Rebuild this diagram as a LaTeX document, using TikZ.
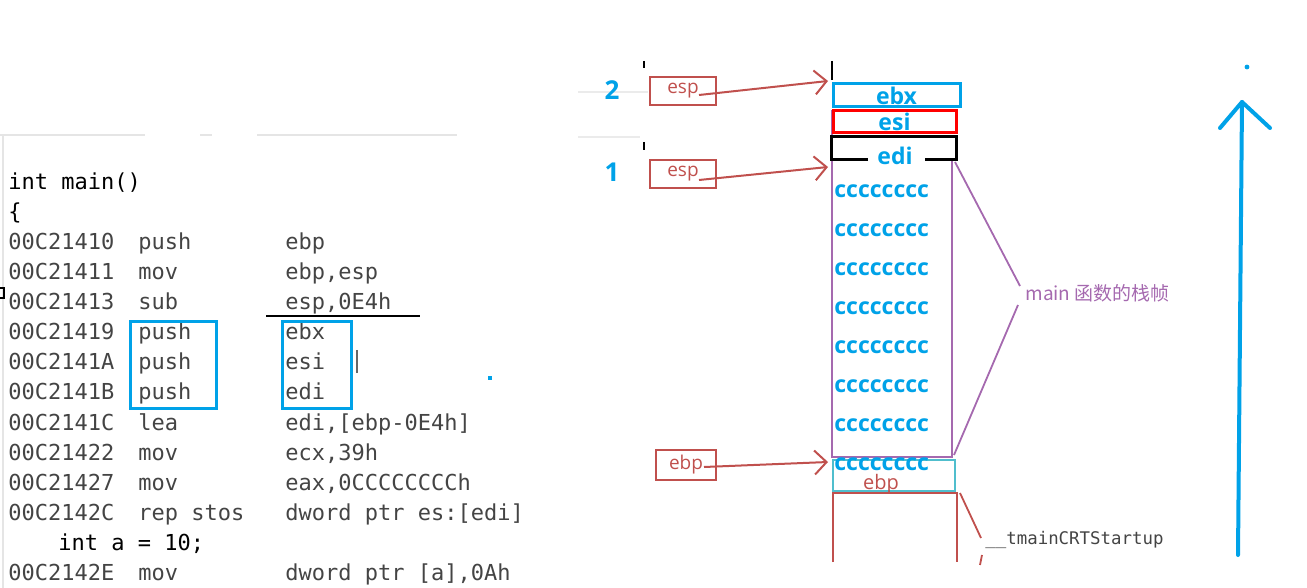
\documentclass[tikz,border=0pt]{standalone}
\usepackage{fontspec}
\setmainfont{Open Sans}
\setmonofont{DejaVu Sans Mono}
\newfontfamily\cjkfont{Noto Sans CJK SC}
\usetikzlibrary{arrows.meta}

\definecolor{stblue}{RGB}{0,162,232}
\definecolor{boxred}{RGB}{192,80,77}
\definecolor{framepurple}{RGB}{165,105,175}
\definecolor{cellteal}{RGB}{80,190,205}
\definecolor{codegray}{RGB}{68,68,68}

\tikzset{
	code/.style={anchor=base west,inner sep=0pt,font=\ttfamily\fontsize{11}{13}\selectfont,text=codegray},
	regbox/.style={draw=boxred,line width=1pt,text=boxred,font=\fontsize{9.5}{10}\selectfont,minimum width=33pt,minimum height=14pt,inner sep=0pt},
	slot/.style={text=stblue,font=\bfseries\fontsize{11.5}{12}\selectfont,inner sep=0pt},
	ptr/.style={draw=boxred,line width=1pt,-{Straight Barb[length=6pt,width=12pt,line width=1pt]}},
}

\begin{document}
\begin{tikzpicture}[x=0.5pt,y=-0.5pt]
			\useasboundingbox (0,0) rectangle (1307,588);
			% faint panel edges
			\draw[black!10,line width=1pt] (0,135) -- (145,135) (200,135) -- (212,135) (257,135) -- (457,135);
			\draw[black!10,line width=1pt] (3,135) -- (3,588);
			\draw[black!8,line width=1pt] (578,92) -- (648,92) (578,137) -- (640,137);
			\draw[black,line width=0.8pt] (644,61) -- (644,68) (832,61) -- (832,80) (644,142) -- (644,150);
			\draw[black,line width=0.8pt] (0,288) -- (4,288) -- (4,298) -- (0,298);

			% disassembly
			\node[code,text=black] (fn) at (8,190) {int main()};
			\node[code,text=black] (brace) at (8,220) {\{};
			\foreach \i/\addr/\mnem/\arg in {0/00C21410/push/ebp,1/00C21411/mov/{ebp,esp},2/00C21413/sub/{esp,0E4h},
				3/00C21419/push/ebx,4/00C2141A/push/esi,5/00C2141B/push/edi,6/00C2141C/lea/{edi,[ebp-0E4h]},
				7/00C21422/mov/{ecx,39h},8/00C21427/mov/{eax,0CCCCCCCCh},9/00C2142C/rep stos/{dword ptr es:[edi]},
				11/00C2142E/mov/{dword ptr [a],0Ah}}{
				\node[code] (addr\i) at (8,250+30*\i) {\addr};
				\node[code] (op\i) at (138,250+30*\i) {\mnem};
				\node[code] (arg\i) at (285,250+30*\i) {\arg};
			}
			\node[code,text=black] (decl) at (58,550) {int a = 10;};
			\draw[line width=1pt] (266,316) -- (420,316);
			\draw[stblue,line width=1.5pt] (130,322) rectangle (216,408);
			\draw[stblue,line width=1.5pt] (282,322) rectangle (351,408);
			\draw[black!60,line width=0.6pt] (357,350) -- (357,373);
			\fill[stblue] (488,376) rectangle (492,380);

			% stack
			\node[text=stblue,font=\bfseries\fontsize{13}{13}\selectfont] (two) at (612,90) {2};
			\node[text=stblue,font=\bfseries\fontsize{13}{13}\selectfont] (one) at (612,172) {1};
			\node[regbox] (esp2) at (683,91) {esp\hspace{6pt}};
			\node[regbox] (esp1) at (683,174) {esp\hspace{6pt}};
			\node[regbox,minimum width=30pt,minimum height=15pt] (ebpreg) at (686,465) {ebp\hspace{3pt}};
			\coordinate (top2) at (828,81);
			\coordinate (top1) at (828,167);
			\coordinate (base) at (828,462);
			\draw[ptr] ([xshift=8pt,yshift=-2pt]esp2.center) -- (top2);
			\draw[ptr] ([xshift=8pt,yshift=-3pt]esp1.center) -- (top1);
			\draw[ptr] ([xshift=9pt,yshift=-1pt]ebpreg.center) -- (base);

			\draw[framepurple,line width=0.8pt] (832,110) -- (832,457) -- (952,457) -- (952,160);
			\draw[cellteal,line width=1pt] (833,460) rectangle (955,491);
			\node[text=boxred,font=\fontsize{10}{10}\selectfont] (ebpslot) at (881,484) {ebp};
			\draw[boxred,line width=1.2pt] (833,562) -- (833,493) -- (957,493) -- (957,562);
			\node[slot,draw=stblue,line width=1.5pt,minimum width=63.5pt,minimum height=11.5pt] (ebx) at (896.5,95.5) {ebx};
			\node[slot,draw=red,line width=1.5pt,minimum width=61.5pt,minimum height=11pt,text depth=0pt] (esi) at (894.5,122) {esi};
			\draw[line width=1.5pt] (868,160) -- (831,160) -- (831,137) -- (956,137) -- (956,160) -- (925,160);
			\node[slot] (edi) at (895,156) {edi};
			\foreach \r in {0,...,7}{
				\node[slot,anchor=west,font=\bfseries\fontsize{11.5}{12}\selectfont] (fill\r) at (834,191+39*\r) {cccccccc};
			}

			% labels
			\node[anchor=west,inner sep=0pt,text=framepurple,font=\cjkfont\fontsize{9.5}{10}\selectfont] (frame) at (1025,293) {main 函数的栈帧};
			\draw[framepurple,line width=0.9pt] (955,162) -- ([shift={(-2.5pt,3.5pt)}]frame.west);
			\draw[framepurple,line width=0.9pt] (954,455) -- ([shift={(-3.5pt,-6pt)}]frame.west);
			\node[anchor=west,inner sep=0pt,text=codegray,font=\ttfamily\fontsize{8.7}{10}\selectfont] (crt) at (985,540) {\_\_tmainCRTStartup};
			\draw[boxred,line width=0.9pt] (960,493) -- ([shift={(-2pt,1pt)}]crt.west);
			\draw[boxred,line width=0.9pt] (982,555) -- (980,565);

			% growth direction
			\draw[stblue,line width=2pt,line cap=round,line join=round] (1238,555) -- (1242,102);
			\draw[stblue,line width=2pt,line cap=round,line join=round] (1220,128) -- (1242,102) -- (1270,128);
			\fill[stblue] (1247,67) circle (1.2pt);
		\end{tikzpicture}
\end{document}
